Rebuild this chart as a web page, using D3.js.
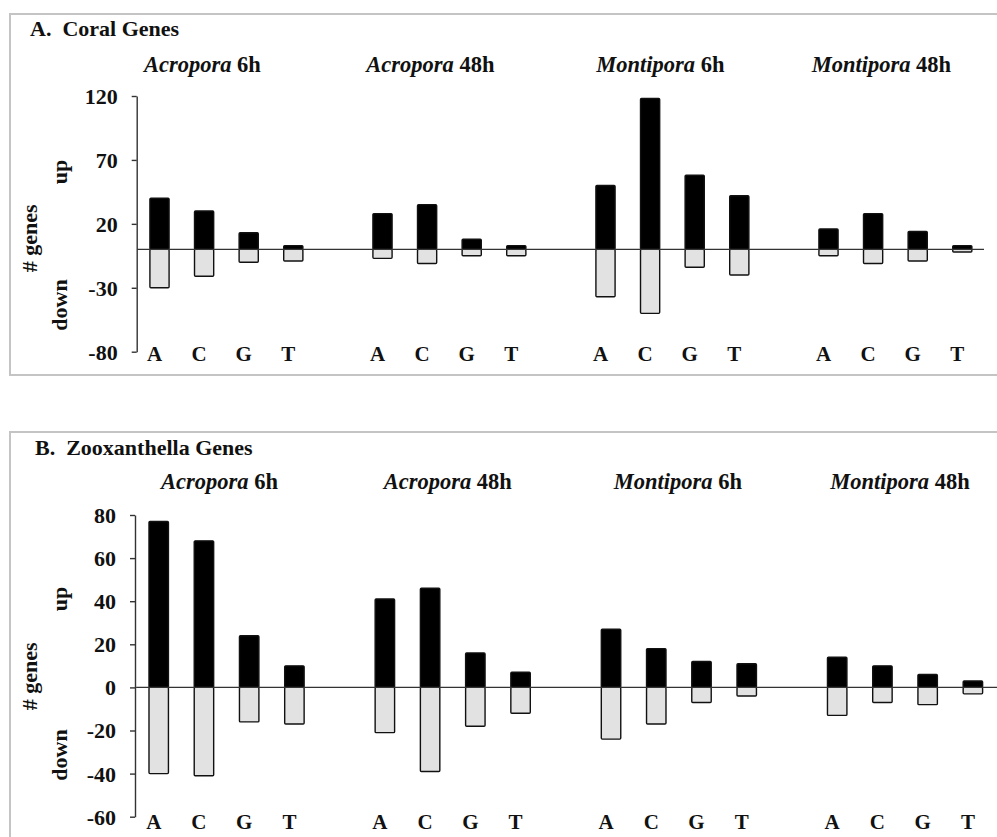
<!DOCTYPE html>
<html lang="en">
<head>
    <meta charset="UTF-8">
    <title>Coral and zooxanthella genes</title>
    <script src="https://d3js.org/d3.v7.min.js"></script>
    <style>
        body { margin: 0; background: #fff; }
        text { font-family: "Liberation Serif", "Times New Roman", serif; font-weight: bold; fill: #111; white-space: pre; }
    </style>
</head>
<body>
<svg width="997" height="837"></svg>

<script>
    const genera = ["Acropora", "Acropora", "Montipora", "Montipora"];
    const times = ["6h", "48h", "6h", "48h"];
    const bases = ["A", "C", "G", "T"];

    // panel A, coral genes (one row per group, A C G T)
    const coralUp = [[40, 30, 13, 3], [28, 35, 8, 3], [50, 118, 58, 42], [16, 28, 14, 3]];
    const coralDown = [[-30, -21, -10, -9], [-7, -11, -5, -5], [-37, -50, -14, -20], [-5, -11, -9, -2]];
    const coralTicks = [-80, -30, 20, 70, 120];

    // panel B, zooxanthella genes
    const zooxUp = [[77, 68, 24, 10], [41, 46, 16, 7], [27, 18, 12, 11], [14, 10, 6, 3]];
    const zooxDown = [[-40, -41, -16, -17], [-21, -39, -18, -12], [-24, -17, -7, -4], [-13, -7, -8, -3]];
    const zooxTicks = [-60, -40, -20, 0, 20, 40, 60, 80];

    const svg = d3.select("svg");

    function drawPanel(p) {
        const g = svg.append("g");

        // panel frame
        g.append("rect")
            .attr("x", p.box[0]).attr("y", p.box[1])
            .attr("width", p.box[2]).attr("height", p.box[3])
            .attr("fill", "none")
            .attr("stroke", "#c4c4c4")
            .attr("stroke-width", 2);

        g.append("text")
            .attr("x", p.titleX).attr("y", p.titleY)
            .attr("font-size", 22)
            .text(p.title);

        // 4 bars per group plus an empty slot between groups
        const slots = d3.range(genera.length * 5 - 1);
        const x = d3.scaleBand()
            .domain(slots)
            .range(p.xRange)
            .paddingInner(0.57)
            .paddingOuter(0.285);

        const y = d3.scaleLinear()
            .domain(p.yDomain)
            .range(p.yRange);

        const rows = [];
        genera.forEach((gen, gi) => {
            bases.forEach((b, bi) => {
                rows.push({slot: gi * 5 + bi, base: b, up: p.up[gi][bi], down: p.down[gi][bi]});
            });
        });

        // down bars
        g.append("g").selectAll("rect")
            .data(rows)
            .join("rect")
            .attr("x", d => x(d.slot))
            .attr("y", y(0))
            .attr("width", x.bandwidth())
            .attr("height", d => y(d.down) - y(0))
            .attr("rx", 1)
            .attr("fill", "#e2e2e2")
            .attr("stroke", "#111")
            .attr("stroke-width", 1.4);

        // up bars
        g.append("g").selectAll("rect")
            .data(rows)
            .join("rect")
            .attr("x", d => x(d.slot))
            .attr("y", d => y(d.up))
            .attr("width", x.bandwidth())
            .attr("height", d => y(0) - y(d.up))
            .attr("rx", 1)
            .attr("fill", "#000")
            .attr("stroke", "#111")
            .attr("stroke-width", 1.4);

        // zero line
        g.append("line")
            .attr("x1", p.xRange[0]).attr("x2", p.zeroEnd)
            .attr("y1", y(0)).attr("y2", y(0))
            .attr("stroke", "#333")
            .attr("stroke-width", 1.4);

        // y axis
        const axis = g.append("g")
            .attr("transform", `translate(${p.axisX},0)`)
            .call(d3.axisLeft(y).tickValues(p.ticks).tickSize(5).tickSizeOuter(0).tickPadding(14).tickFormat(d => String(d)))
            .attr("font-family", null)
            .attr("font-size", null);
        axis.selectAll("path, line").attr("stroke", "#333").attr("stroke-width", 1.4);
        axis.selectAll("text").attr("font-size", 22).attr("fill", "#111").attr("dy", "0.34em");

        // base labels
        g.append("g").selectAll("text")
            .data(rows)
            .join("text")
            .attr("x", d => x(d.slot) + x.bandwidth() / 2 - 5)
            .attr("y", p.baseY)
            .attr("text-anchor", "middle")
            .attr("font-size", 21)
            .text(d => d.base);

        // group titles
        const heads = g.append("g").selectAll("text")
            .data(genera)
            .join("text")
            .attr("x", (d, i) => (x(i * 5) + x(i * 5 + 3) + x.bandwidth()) / 2 + p.headShift[i])
            .attr("y", p.headY)
            .attr("text-anchor", "middle")
            .attr("font-size", 22.5);
        heads.append("tspan").attr("font-style", "italic").text(d => d);
        heads.append("tspan").text((d, i) => " " + times[i]);

        // rotated y labels
        const ylab = [
            {t: "# genes", x: 37, y: y(0) - 11},
            {t: "up", x: 67, y: p.upY},
            {t: "down", x: 67, y: p.downY}
        ];
        g.append("g").selectAll("text")
            .data(ylab)
            .join("text")
            .attr("transform", d => `translate(${d.x},${d.y}) rotate(-90)`)
            .attr("text-anchor", "middle")
            .attr("font-size", 22)
            .text(d => d.t);
    }

    drawPanel({
        title: "A.  Coral Genes", titleX: 30, titleY: 36,
        box: [10, 14, 1100, 361],
        up: coralUp, down: coralDown, ticks: coralTicks,
        yDomain: [-80, 120], yRange: [351.7, 96],
        xRange: [137.2, 984.6], zeroEnd: 984, axisX: 136.7,
        baseY: 361, headY: 72, headShift: [-24, -19, -12, -14],
        upY: 172, downY: 305
    });

    drawPanel({
        title: "B.  Zooxanthella Genes", titleX: 35, titleY: 455,
        box: [10, 432, 1100, 500],
        up: zooxUp, down: zooxDown, ticks: zooxTicks,
        yDomain: [-60, 80], yRange: [816.7, 515],
        xRange: [136.1, 995.5], zeroEnd: 997, axisX: 135,
        baseY: 829, headY: 489, headShift: [-7, -5, -1, -5],
        upY: 599, downY: 755
    });
</script>
</body>
</html>
